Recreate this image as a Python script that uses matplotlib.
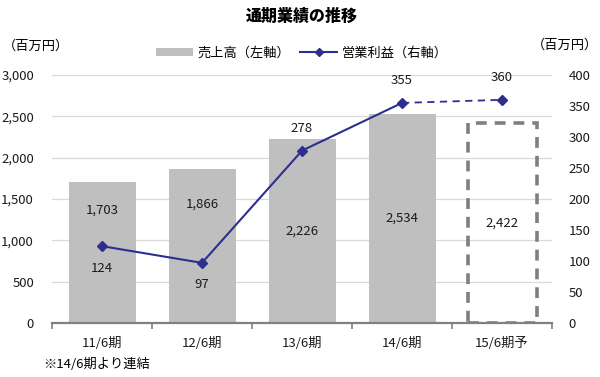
import matplotlib
matplotlib.use('Agg')
import matplotlib.pyplot as plt
from matplotlib.ticker import FuncFormatter, MultipleLocator
from matplotlib.lines import Line2D
from matplotlib.patches import Patch
import numpy as np

plt.rcParams['font.family'] = ['Noto Sans CJK JP', 'DejaVu Sans']

# data
periods = ['11/6期', '12/6期', '13/6期', '14/6期', '15/6期予']
sales = [1703, 1866, 2226, 2534, 2422]          # 売上高 (left axis)
op_profit = [124, 97, 278, 355, 360]           # 営業利益 (right axis)
is_forecast = [False, False, False, False, True]

# where the bar labels sit, as a fraction of the bar height
sales_label_frac = [0.80, 0.77, 0.50, 0.50, 0.50]
# profit label: above (+1) or below (-1) the marker
profit_label_side = [-1, -1, 1, 1, 1]

bar_color = '#BFBFBF'
line_color = '#2E2E8E'
box_color = '#7F7F7F'
text_color = '#1A1A1A'

fig = plt.figure(figsize=(6, 3.77), dpi=100)
ax = fig.add_axes([0.0867, 0.1432, 0.8333, 0.6578])
ax2 = ax.twinx()

x = np.arange(len(periods))
for xi, v, fc in zip(x, sales, is_forecast):
    if fc:
        ax.bar(xi, v, width=0.69, facecolor='none', edgecolor=box_color,
               linewidth=2.6, linestyle=(0, (3, 2.2)), zorder=2)
    else:
        ax.bar(xi, v, width=0.67, color=bar_color, zorder=2)

for xi, v, f in zip(x, sales, sales_label_frac):
    ax.text(xi, v * f, f'{v:,}', ha='center', va='center', fontsize=9.5,
            color=text_color, zorder=5)

ax.set_xlim(-0.5, len(periods) - 0.5)
ax.set_ylim(0, 3000)
ax.yaxis.set_major_locator(MultipleLocator(500))
ax.yaxis.set_major_formatter(FuncFormatter(lambda v, p: f'{int(v):,}'))
ax.grid(axis='y', color='#D9D9D9', linewidth=0.9, zorder=0)
ax.set_axisbelow(True)

ax.set_xticks(x)
ax.set_xticklabels(periods, fontsize=9.5, color=text_color)
ax.set_xticks(np.arange(-0.5, len(periods)), minor=True)
ax.tick_params(axis='x', which='major', length=0, pad=10)
ax.tick_params(axis='x', which='minor', length=4, color='#808080', width=1.2)
ax.tick_params(axis='y', length=0, labelsize=9.5, pad=13, colors=text_color)

for s in ['top', 'right', 'left']:
    ax.spines[s].set_visible(False)
ax.spines['bottom'].set_color('#808080')
ax.spines['bottom'].set_linewidth(1.6)

# operating profit line (solid for actuals, dashed to the forecast)
n_act = sum(1 for f in is_forecast if not f)
ax2.plot(x[:n_act], op_profit[:n_act], color=line_color, linewidth=1.5,
         marker='D', markersize=5.5, zorder=4)
ax2.plot(x[n_act - 1:], op_profit[n_act - 1:], color=line_color, linewidth=1.3,
         linestyle=(0, (4, 3)), zorder=4)
ax2.plot(x[n_act:], op_profit[n_act:], color=line_color, linestyle='none',
         marker='D', markersize=5.5, zorder=4)

for xi, v, side in zip(x, op_profit, profit_label_side):
    ax2.annotate(f'{v}', (xi, v), textcoords='offset pixels',
                 xytext=(0, 22 * side), ha='center', va='center',
                 fontsize=9.5, color=text_color)

ax2.set_ylim(0, 400)
ax2.yaxis.set_major_locator(MultipleLocator(50))
ax2.tick_params(axis='y', length=0, labelsize=9.5, pad=12, colors=text_color)
for s in ['top', 'right', 'left', 'bottom']:
    ax2.spines[s].set_visible(False)

fig.text(0.503, 0.958, '通期業績の推移', ha='center', va='center',
         fontsize=11.5, fontweight='heavy')
fig.text(0.005, 0.877, '（百万円）', ha='left', va='center', fontsize=9.5)
fig.text(0.997, 0.88, '（百万円）', ha='right', va='center', fontsize=9.5)
fig.text(0.072, 0.032, '※14/6期より連結', ha='left', va='center', fontsize=9.5)

handles = [Patch(facecolor=bar_color, edgecolor='none'),
           Line2D([], [], color=line_color, marker='D', markersize=4, linewidth=1.5)]
fig.legend(handles, ['売上高（左軸）', '営業利益（右軸）'], loc='center',
           bbox_to_anchor=(0.503, 0.859), ncol=2, frameon=False, fontsize=9.5,
           handlelength=2.8, handleheight=0.55, columnspacing=0.8,
           handletextpad=0.3, borderpad=0)

fig.savefig('out.png', dpi=100)
